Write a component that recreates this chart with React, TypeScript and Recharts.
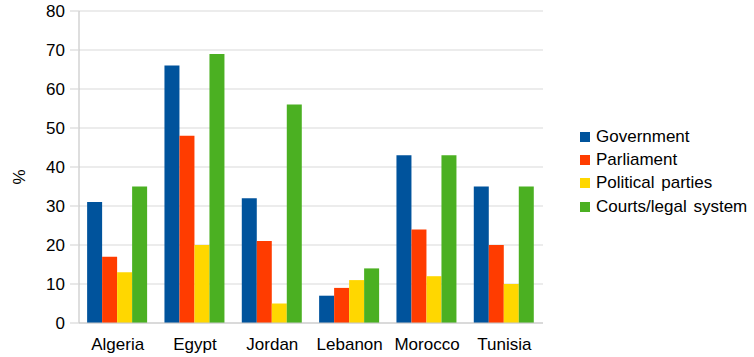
import { Bar, BarChart, CartesianGrid, XAxis, YAxis } from 'recharts';

const countries = ['Algeria', 'Egypt', 'Jordan', 'Lebanon', 'Morocco', 'Tunisia'];
const government = [31, 66, 32, 7, 43, 35];
const parliament = [17, 48, 21, 9, 24, 20];
const politicalParties = [13, 20, 5, 11, 12, 10];
const courts = [35, 69, 56, 14, 43, 35];
const yTicks = [0, 10, 20, 30, 40, 50, 60, 70, 80];
const edgeTicks = [0, 1, 2, 3, 4, 5, 6];

const SERIES = [
  { key: 'government', name: 'Government', color: '#00539c' },
  { key: 'parliament', name: 'Parliament', color: '#ff3c00' },
  { key: 'parties', name: 'Political parties', color: '#ffd700' },
  { key: 'courts', name: 'Courts/legal system', color: '#4bb022' },
];

const data = countries.map((c, i) => ({
  country: c,
  government: government[i],
  parliament: parliament[i],
  parties: politicalParties[i],
  courts: courts[i],
}));

const FONT = '"Liberation Sans", Arial, sans-serif';
const AXIS = '#c8c8c8';
const GRID = '#d9d9d9';

// rotated unit label, a bit below the middle of the plot like the original
const PercentLabel = ({ viewBox }: { viewBox?: { x: number; y: number; width: number; height: number } }) => {
  if (!viewBox) return null;
  const cx = viewBox.x + 19;
  const cy = viewBox.y + viewBox.height / 2 + 10;
  return (
    <text
      x={cx}
      y={cy}
      transform={`rotate(-90, ${cx}, ${cy})`}
      textAnchor="middle"
      dominantBaseline="central"
      fill="#000"
      fontSize={17}
      fontFamily={FONT}
    >
      %
    </text>
  );
};

const LegendBox = () => (
  <div style={{ position: 'absolute', left: 580, top: 125, fontFamily: FONT, fontSize: 17, color: '#000' }}>
    {SERIES.map((s) => (
      <div key={s.key} style={{ display: 'flex', alignItems: 'center', height: 23.3, whiteSpace: 'nowrap' }}>
        <span style={{ width: 10, height: 10, background: s.color, marginRight: 6, display: 'inline-block' }} />
        <span style={{ wordSpacing: 2 }}>{s.name}</span>
      </div>
    ))}
  </div>
);

export default function App() {
  return (
    <div style={{ position: 'absolute', left: 0, top: 0, width: 754, height: 357, background: '#fff' }}>
      <BarChart
        width={754}
        height={357}
        data={data}
        margin={{ top: 11, right: 211, left: 0, bottom: 4 }}
        barCategoryGap="10.5%"
        barGap={0}
      >
        <CartesianGrid vertical={false} stroke={GRID} strokeWidth={1.2} />
        <XAxis
          dataKey="country"
          height={30}
          axisLine={{ stroke: AXIS, strokeWidth: 1.2 }}
          tickLine={false}
          tick={{ fill: '#000', fontSize: 17, fontFamily: FONT }}
          tickMargin={9}
          interval={0}
        />
        <XAxis
          xAxisId="edges"
          type="number"
          domain={[0, 6]}
          ticks={edgeTicks}
          height={0}
          tick={false}
          tickSize={7}
          tickLine={{ stroke: AXIS, strokeWidth: 1.2 }}
          axisLine={false}
        />
        <YAxis
          width={79}
          domain={[0, 80]}
          ticks={yTicks}
          interval={0}
          axisLine={{ stroke: AXIS, strokeWidth: 1.2 }}
          tickLine={{ stroke: GRID, strokeWidth: 1.2 }}
          tickSize={9}
          tickMargin={5}
          tick={{ fill: '#000', fontSize: 17, fontFamily: FONT }}
          label={<PercentLabel />}
        />
        <YAxis
          yAxisId="right"
          orientation="right"
          width={0}
          domain={[0, 80]}
          tick={false}
          tickLine={false}
          axisLine={{ stroke: AXIS, strokeWidth: 1.2 }}
        />
        {SERIES.map((s) => (
          <Bar
            key={s.key}
            dataKey={s.key}
            name={s.name}
            fill={s.color}
            isAnimationActive={false}
          />
        ))}
      </BarChart>
      <LegendBox />
    </div>
  );
}
